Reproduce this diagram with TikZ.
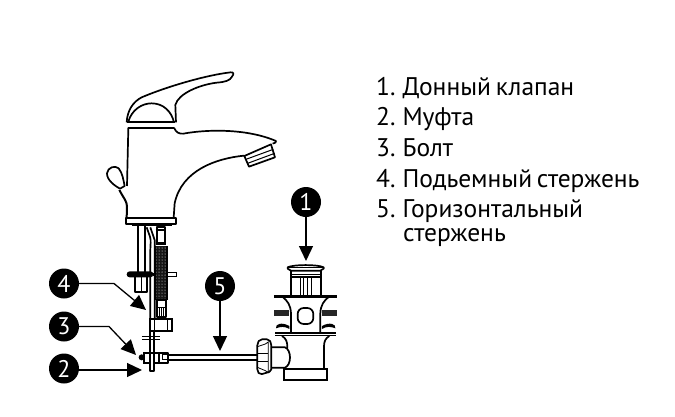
\documentclass[tikz,border=0pt]{standalone}
\usepackage{fontspec}
\setmainfont[WordSpace=0.7]{PT Sans}
\usetikzlibrary{patterns,arrows.meta}
\tikzset{
  base/.style={x=1pt,y=-1pt},
  zone/.style n args={2}{xshift=#1pt,yshift=-#2pt,x=.3333pt,y=-.3333pt},
  ln/.style={line width=1.7pt,black,line join=round},
  thin ln/.style={line width=1pt,black},
  fine/.style={line width=.8pt,black},
  heavy/.style={line width=2.6pt,black},
  badge/.style={circle,fill=black,minimum size=30pt,inner sep=0pt,text=white,font=\fontsize{24}{24}\selectfont},
  item/.style={anchor=base west,inner sep=0pt,font=\fontsize{25.5}{27}\selectfont},
  pointer/.style={line width=1.3pt,-{Triangle[length=15pt,width=14pt]}},
}
\begin{document}
\begin{tikzpicture}[base]
\useasboundingbox (0,0) rectangle (675,416);
\fill[white] (0,0) rectangle (675,416);
% faucet body
\begin{scope}[zone={100}{60}]
\draw[ln,fill=white] (80,187) .. controls (82,150) and (100,125) .. (125,112) .. controls (200,80) and (320,45) .. (392,37) .. controls (402,36) and (402,42) .. (396,50) .. controls (390,62) and (375,66) .. (350,68) .. controls (300,74) and (235,100) .. (226,135) -- (228,187);
\draw[ln] (85,185) .. controls (95,150) and (125,130) .. (155,130) .. controls (190,130) and (215,155) .. (222,187);
\draw[ln] (80,187) -- (226,187) (85,203) -- (222,203);
\draw[ln] (85,203) -- (81,378);
\draw[ln] (222,203) .. controls (228,218) and (238,222) .. (250,221) .. controls (320,208) and (440,205) .. (528,243) .. controls (530,247) and (525,249) .. (518,251);
\draw[ln] (432,287) .. controls (350,295) and (245,330) .. (224,430) -- (221,473);
\draw[ln,fill=white] (433,288) -- (513,253) -- (525,292) -- (447,320) -- cycle;
\draw[thin ln] (438,298) -- (520,268) (443,310) -- (524,280);
\draw[line width=2pt] (58,390) .. controls (68,410) and (82,425) .. (81,440) -- (80,473);
\draw[ln,fill=white] (60,386) .. controls (45,378) and (20,360) .. (21,340) .. controls (23,322) and (45,315) .. (56,325) .. controls (68,340) and (70,360) .. (74,378) -- cycle;
\draw[ln,fill=white] (78,473) rectangle (228,491);
\end{scope}
% plumbing below faucet
\begin{scope}[zone={40}{220}]
\fill (275,12) rectangle (395,19);
\draw[ln] (295,15) -- (295,155) (315,15) -- (315,155);
\draw[ln,fill=white] (285,170) -- (285,215) -- (320,215) -- (320,170);
\draw[fine] (303,172) -- (303,215);
\draw[ln] (320,22) -- (330,50) .. controls (334,62) and (331,75) .. (331,90) -- (331,310);
\draw[ln] (331,22) -- (344,60) -- (344,310);
\fill[rounded corners=3pt] (260,154) rectangle (340,172);
\fill (340,158) rectangle (345,168);
\draw[thin ln] (380,158) -- (410,158) -- (410,168) -- (380,168);
\fill[black!92] (345,78) rectangle (380,240);
\fill[pattern=dots,pattern color=white] (345,78) rectangle (380,240);
\draw[ln] (345,78) -- (345,240) (380,78) -- (380,240);
\draw[ln,fill=white] (350,20) rectangle (375,70);
\draw[heavy] (347,30) -- (378,30) (347,72) -- (378,72);
\draw[ln,fill=white] (350,240) rectangle (378,290);
\draw[heavy] (348,240) -- (380,240);
\draw[thin ln] (358,262) -- (358,290) (366,262) -- (366,290) (372,262) -- (372,290) (350,262) -- (378,262);
\draw[line width=2.2pt,fill=white] (330,296) rectangle (396,334);
\draw[thin ln] (345,296) -- (345,334) (382,296) -- (382,334);
\draw[ln] (329,334) -- (329,400) (343,334) -- (343,400);
\draw[thin ln] (306,351) -- (360,351) (306,358) -- (360,358);
\draw[ln] (385,405) -- (510,405) (385,420) -- (510,420);
\draw[ln] (358,398) -- (385,398) -- (385,430) -- (358,430);
\draw[thin ln] (385,405) -- (368,405) -- (368,420) -- (385,420);
\draw[line width=2pt,fill=white] (312,398) rectangle (358,428);
\fill (305,412) circle (9);
\draw[ln,fill=white] (329,398) rectangle (343,454);
\end{scope}
% pop-up valve
\begin{scope}[zone={200}{180}]
\draw[ln] (272,270) -- (272,346) (362,270) -- (362,346);
\draw[thin ln] (272,283) -- (362,283);
\draw[line width=2pt] (272,292) -- (362,292);
\draw[thin ln] (301,292) -- (301,346) (311,292) -- (311,346) (324,292) -- (324,346) (334,292) -- (334,346);
\draw[ln,fill=white] (263,262) .. controls (280,253) and (354,253) .. (371,262) -- (371,266) -- (361,272) -- (273,272) -- (263,266) -- cycle;
\draw[line width=1.2pt] (263,263) -- (371,263);
\draw[line width=2.6pt] (222,349) -- (412,349);
\draw[ln] (248,351) .. controls (262,362) and (272,375) .. (273,400) -- (273,458);
\draw[ln] (386,351) .. controls (372,362) and (362,375) .. (361,400) -- (361,458);
\draw[ln,rounded corners=6pt] (293,384) rectangle (340,432);
\fill[black!85] (222,390) rectangle (268,408);
\fill[black!85] (367,390) rectangle (412,408);
\fill (228,445) .. controls (225,432) and (245,425) .. (268,438) -- (268,447) .. controls (255,438) and (240,440) .. (228,445) -- cycle;
\fill (406,445) .. controls (409,432) and (389,425) .. (366,438) -- (366,447) .. controls (379,438) and (394,440) .. (406,445) -- cycle;
\draw[line width=2.6pt] (226,459) -- (408,459);
\draw[line width=1.2pt] (226,466) -- (408,466);
\draw[ln] (246,468) .. controls (258,475) and (262,485) .. (262,500) -- (262,505);
\draw[ln] (388,468) .. controls (376,475) and (372,485) .. (372,500) -- (372,566);
\draw[ln] (0,525) -- (172,525) (0,539) -- (172,539);
\draw[ln] (205,502) -- (255,502) .. controls (275,510) and (275,555) .. (255,563) -- (205,563);
\draw[line width=2.2pt,fill=white] (252,566) rectangle (382,600);
\draw[ln,fill=white,rounded corners=2pt] (180,478) -- (207,478) -- (214,490) -- (214,574) -- (180,584) -- (172,574) -- (172,490) -- cycle;
\draw[fine] (172,500) -- (196,492) -- (205,486) -- (205,578) -- (196,572) -- (172,562);
\draw[fine] (172,520) -- (205,520) (172,545) -- (205,545);
\end{scope}
% badges and pointers
\coordinate (t1) at (306,261);
\coordinate (t5) at (220,351);
\coordinate (t4) at (146,310);
\coordinate (t3) at (136,355);
\coordinate (t2) at (142,370);
\node[badge] (b1) at (306,202) {1};
\node[badge] (b5) at (220,286) {5};
\node[badge] (b4) at (64,283.5) {4};
\node[badge] (b3) at (64,326.5) {3};
\node[badge] (b2) at (64,368.5) {2};
\draw[pointer] (b1) -- (t1);
\draw[pointer] (b5) -- (t5);
\draw[pointer] (b4.east) -- (114,283.5) -- (t4);
\draw[pointer] (b3.east) -- (109,326.5) -- (t3);
\draw[pointer] (b2.east |- t2) -- (t2);
% legend
\node[item] (l1) at (376,95) {1. Донный клапан};
\node[item] (l2) at (376,125) {2. Муфта};
\node[item] (l3) at (376,156) {3. Болт};
\node[item] (l4) at (376,187) {4. Подьемный стержень};
\node[item] (l5) at (376,217) {5. Горизонтальный};
\node[item] (l6) at (403,241) {стержень};
\end{tikzpicture}
\end{document}
